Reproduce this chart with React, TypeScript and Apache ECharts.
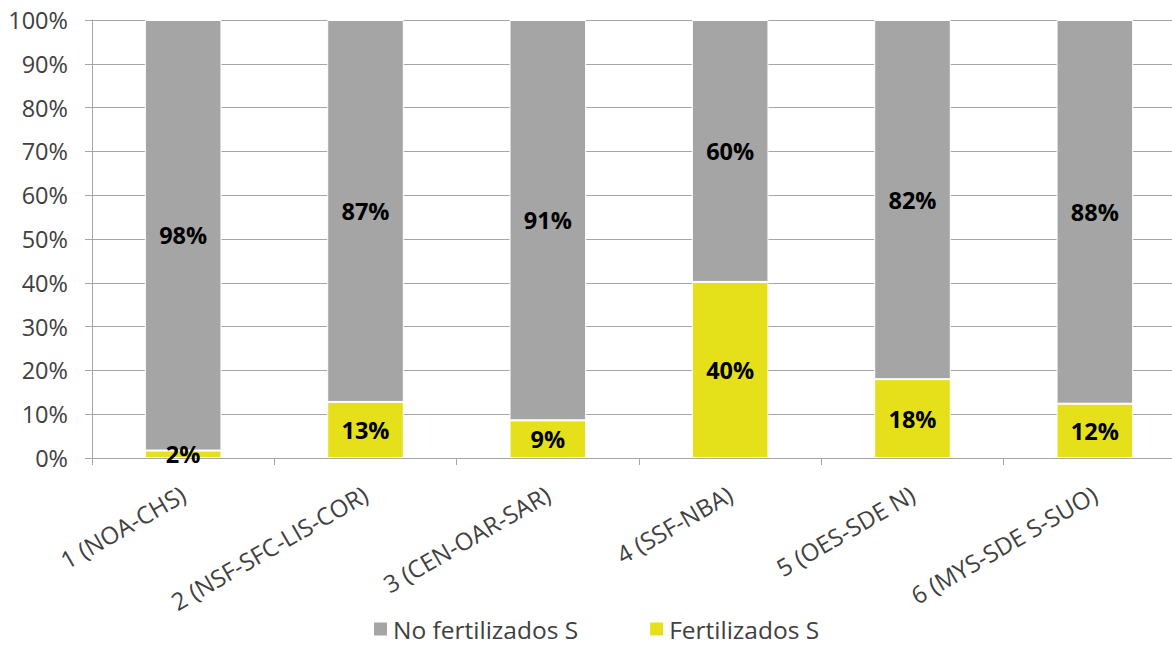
import React, { useEffect, useRef } from "react";
import * as echarts from "echarts";

const categories = [
  "1 (NOA-CHS)",
  "2 (NSF-SFC-LIS-COR)",
  "3 (CEN-OAR-SAR)",
  "4 (SSF-NBA)",
  "5 (OES-SDE N)",
  "6 (MYS-SDE S-SUO)",
];
const fertilizados = [1.7, 12.8, 8.6, 40.2, 18.0, 12.4];
const noFertilizados = [98.3, 87.2, 91.4, 59.8, 82.0, 87.6];
const yTicks = [0, 10, 20, 30, 40, 50, 60, 70, 80, 90, 100];

const FONT = "'Open Sans', sans-serif";
const TEXT = "#404040";
const GRID = "#A6A6A6";

export default function App() {
  const ref = useRef<HTMLDivElement>(null);
  useEffect(() => {
    if (!ref.current) return;
    const chart = echarts.init(ref.current, undefined, { renderer: "svg" });
    const labelCfg = {
      show: true,
      position: "inside",
      formatter: (p: any) => Math.round(p.value) + "%",
      fontFamily: FONT,
      fontWeight: "bold",
      fontSize: 23.5,
      color: "#000",
    };
    chart.setOption({
      animation: false,
      textStyle: { fontFamily: FONT },
      grid: { left: 92, top: 20, width: 1094, height: 438, containLabel: false },
      legend: {
        top: 616,
        left: 372,
        padding: 0,
        itemWidth: 15,
        itemHeight: 15,
        itemGap: 70,
        icon: "rect",
        textStyle: { fontFamily: FONT, fontSize: 24.5, lineHeight: 26, color: TEXT },
        data: ["No fertilizados S", "Fertilizados S"],
      },
      xAxis: {
        type: "category",
        data: categories,
        axisLine: { lineStyle: { color: GRID, width: 1 } },
        axisTick: { show: true, length: 7, lineStyle: { color: GRID } },
        axisLabel: {
          rotate: 30,
          interval: 0,
          margin: 34,
          fontFamily: FONT,
          fontSize: 24,
          color: TEXT,
        },
      },
      yAxis: {
        type: "value",
        min: 0,
        max: 100,
        interval: 10,
        axisLine: { show: true, lineStyle: { color: GRID, width: 1 } },
        axisTick: { show: true, length: 7, lineStyle: { color: GRID } },
        axisLabel: {
          margin: 24,
          fontFamily: FONT,
          fontSize: 23.5,
          color: TEXT,
          formatter: (v: number) => (yTicks.includes(v) ? v + "%" : ""),
        },
        splitLine: { show: true, lineStyle: { color: GRID, width: 1 } },
      },
      series: [
        {
          name: "Fertilizados S",
          type: "bar",
          stack: "total",
          barWidth: "42%",
          data: fertilizados,
          itemStyle: { color: "#E6E01A", borderColor: "#fff", borderWidth: 1 },
          label: labelCfg,
        },
        {
          name: "No fertilizados S",
          type: "bar",
          stack: "total",
          barWidth: "42%",
          data: noFertilizados,
          itemStyle: { color: "#A5A5A5", borderColor: "#fff", borderWidth: 1 },
          label: labelCfg,
        },
      ],
    });
    return () => chart.dispose();
  }, []);
  return (
    <div
      style={{
        position: "fixed",
        left: 0,
        top: 0,
        width: 1172,
        height: 645,
        overflow: "hidden",
        background: "#fff",
      }}
    >
      <div ref={ref} style={{ width: 1200, height: 645 }} />
    </div>
  );
}
